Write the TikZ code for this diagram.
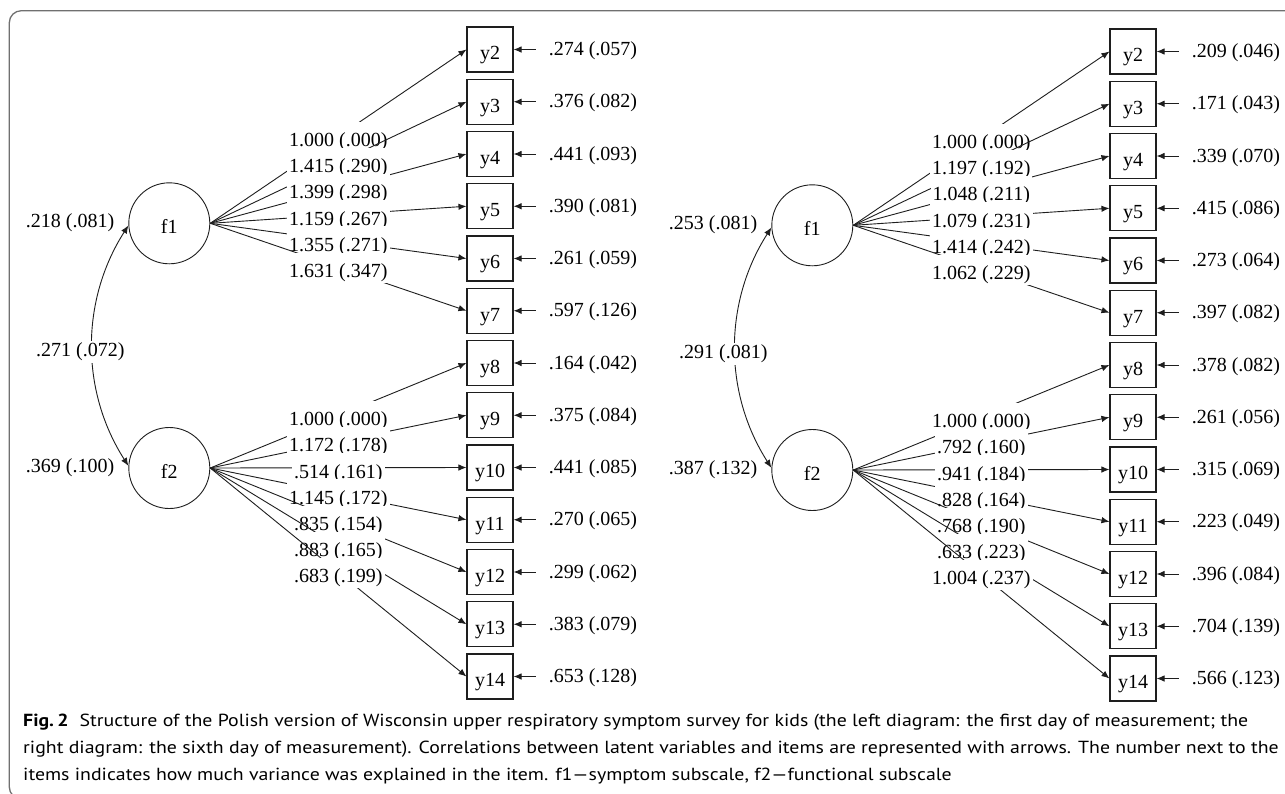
\documentclass[tikz,border=0pt]{standalone}
\usepackage{fontspec}
\setmainfont{Liberation Serif}
\newfontfamily\capfam{PT Sans}
\usetikzlibrary{arrows.meta}
\newlength\capw
\newcommand\capfont{\capfam\fontsize{17.5}{21}\selectfont}
\newcommand\capone{\textbf{Fig.\,2}\hspace{0.55em}Structure of the Polish version of Wisconsin upper respiratory symptom survey for kids (the left diagram: the first day of measurement; the}
\newcommand\captwo{right diagram: the sixth day of measurement). Correlations between latent variables and items are represented with arrows. The number next to the}
\newcommand\capthree{items indicates how much variance was explained in the item. f1—symptom subscale, f2—functional subscale}
\newcommand\capkg{1}
\definecolor{framec}{HTML}{707070}
\definecolor{ink}{HTML}{1E1E1E}
\tikzset{
  dgfont/.style={font=\fontsize{20}{24}\selectfont},
  lat/.style={circle,draw=ink,line width=0.9pt,minimum size=81pt,inner sep=0pt,text height=21pt,text depth=0pt,dgfont},
  obs/.style={rectangle,draw=ink,line width=1.1pt,minimum width=46pt,minimum height=45pt,inner sep=0pt,text height=20.5pt,text depth=0pt,dgfont},
  arr/.style={draw=ink,line width=0.9pt,-{Latex[length=8pt,width=6.5pt]}},
  biarr/.style={draw=ink,line width=0.9pt,{Latex[length=8pt,width=6.5pt]}-{Latex[length=8pt,width=6.5pt]}},
  lbl/.style={fill=white,anchor=base,text height=24.8pt,text depth=5.2pt,inner ysep=0pt,inner xsep=2pt,yshift=-10.3pt,dgfont},
  plain/.style={inner sep=0pt,dgfont},
  capline/.style={anchor=base west,inner sep=0pt,font=\capfont},
}
% #1 prefix, #2 x shift, #3 y shift, #4 f1 loadings, #5 f2 loadings, #6 residuals, #7 var f1, #8 var f2, #9 covariance
\newcommand\semdiagram[9]{%
\begin{scope}[shift={(#2,#3)}]
  \node[lat] (#1f1) at (169.3,223.3) {f1};
  \node[lat] (#1f2) at (169.3,468) {f2};
  \foreach \k in {2,...,14} {\node[obs] (#1y\k) at (490,{49.5+(\k-2)*52.25}) {y\k};}
  \foreach \k/\t in {#4} {\draw[arr] (#1f1.east) -- node[lbl]{\t} (#1y\k.west);}
  \foreach \k/\t in {#5} {\draw[arr] (#1f2.east) -- node[lbl]{\t} (#1y\k.west);}
  \foreach \k/\t in {#6} {%
    \coordinate (#1e\k) at ([xshift=22pt]#1y\k.east);
    \draw[arr] (#1e\k) -- (#1y\k.east);
    \node[plain,anchor=base west] (#1r\k) at ([xshift=35pt,yshift=-6pt]#1y\k.east) {\t};
  }
  \draw[biarr] (#1f1.183) .. controls +(-48,75) and +(-48,-75) .. (#1f2.177);
  \node[plain,anchor=base] (#1v1) at ([xshift=-99.3pt,yshift=-4.25pt]#1f1.center) {#7};
  \node[plain,anchor=base] (#1v2) at ([xshift=-99.3pt,yshift=-4.25pt]#1f2.center) {#8};
  \node[plain,anchor=base,fill=white,inner sep=1.5pt] (#1cv) at (80.4,356.75) {#9};
\end{scope}}
\begin{document}
\begin{tikzpicture}[x=1pt,y=-1pt]
  \clip (0,0) rectangle (1285,793);
  \fill[white] (0,0) rectangle (1285,793);
  \draw[framec,line width=1.3pt,rounded corners=12pt] (9.3,10.7) rectangle (1320,799);
  \semdiagram{L}{0}{0}%
    {2/{1.000 (.000)},3/{1.415 (.290)},4/{1.399 (.298)},5/{1.159 (.267)},6/{1.355 (.271)},7/{1.631 (.347)}}%
    {8/{1.000 (.000)},9/{1.172 (.178)},10/{.514 (.161)},11/{1.145 (.172)},12/{.835 (.154)},13/{.883 (.165)},14/{.683 (.199)}}%
    {2/{.274 (.057)},3/{.376 (.082)},4/{.441 (.093)},5/{.390 (.081)},6/{.261 (.059)},7/{.597 (.126)},8/{.164 (.042)},9/{.375 (.084)},10/{.441 (.085)},11/{.270 (.065)},12/{.299 (.062)},13/{.383 (.079)},14/{.653 (.128)}}%
    {.218 (.081)}{.369 (.100)}{.271 (.072)}
  \semdiagram{R}{643}{2}%
    {2/{1.000 (.000)},3/{1.197 (.192)},4/{1.048 (.211)},5/{1.079 (.231)},6/{1.414 (.242)},7/{1.062 (.229)}}%
    {8/{1.000 (.000)},9/{.792 (.160)},10/{.941 (.184)},11/{.828 (.164)},12/{.768 (.190)},13/{.633 (.223)},14/{1.004 (.237)}}%
    {2/{.209 (.046)},3/{.171 (.043)},4/{.339 (.070)},5/{.415 (.086)},6/{.273 (.064)},7/{.397 (.082)},8/{.378 (.082)},9/{.261 (.056)},10/{.315 (.069)},11/{.223 (.049)},12/{.396 (.084)},13/{.704 (.139)},14/{.566 (.123)}}%
    {.253 (.081)}{.387 (.132)}{.291 (.081)}
  \node[capline] (cap1) at (23,726.7) {\settowidth\capw{\capone}\pgfmathsetmacro\capk{1225/\capw}\xdef\capkg{\capk}\scalebox{\capkg}[1]{\capone}};
  \node[capline] (cap2) at (23,753.3) {\scalebox{\capkg}[1]{\captwo}};
  \node[capline] (cap3) at (23,780) {\scalebox{\capkg}[1]{\capthree}};
\end{tikzpicture}
\end{document}
